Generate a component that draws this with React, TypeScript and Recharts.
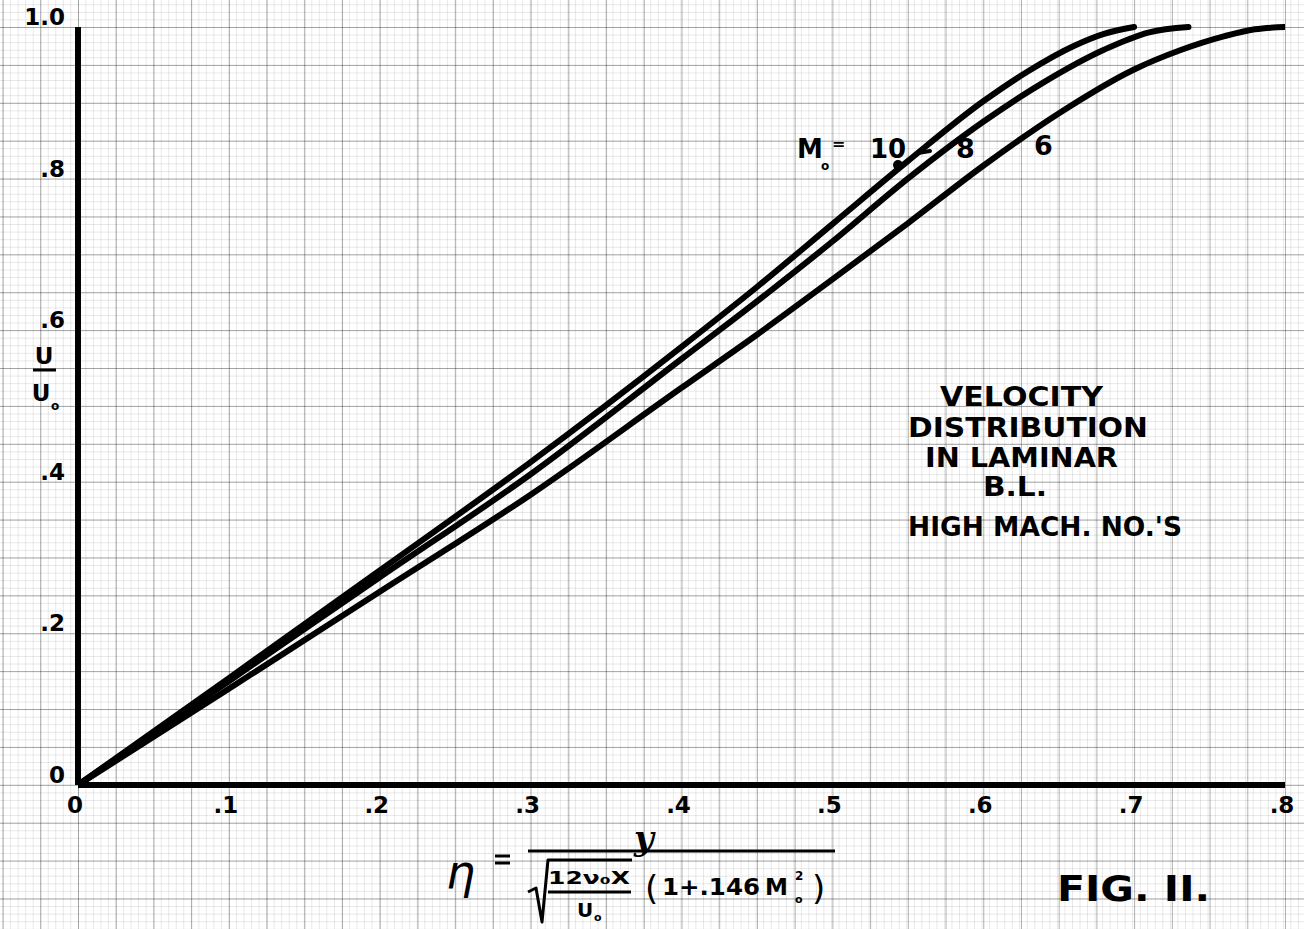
import React from "react";
import { LineChart, Line, XAxis, YAxis } from "recharts";

// velocity profiles u/U0 vs eta
const etaM10 = [0, 0.1, 0.2, 0.3, 0.4, 0.45, 0.5, 0.55, 0.6, 0.63, 0.66, 0.68, 0.7];
const uM10 = [0, 0.141, 0.283, 0.426, 0.578, 0.657, 0.74, 0.823, 0.902, 0.942, 0.975, 0.991, 1.0];

const etaM8 = [0, 0.1, 0.2, 0.3, 0.4, 0.45, 0.5, 0.55, 0.6, 0.64, 0.68, 0.71, 0.736];
const uM8 = [0, 0.137, 0.274, 0.41, 0.562, 0.638, 0.717, 0.8, 0.875, 0.927, 0.97, 0.993, 1.0];

const etaM6 = [0, 0.1, 0.2, 0.3, 0.4, 0.45, 0.5, 0.55, 0.6, 0.65, 0.7, 0.73, 0.76, 0.78, 0.8];
const uM6 = [0, 0.127, 0.255, 0.383, 0.524, 0.594, 0.667, 0.741, 0.817, 0.886, 0.944, 0.969, 0.988, 0.997, 1.0];

const xTicks = [0, 0.1, 0.2, 0.3, 0.4, 0.5, 0.6, 0.7, 0.8];
const xTickLabels = ["0", ".1", ".2", ".3", ".4", ".5", ".6", ".7", ".8"];
const yTicks = [0, 0.2, 0.4, 0.6, 0.8, 1.0];
const yTickLabels = ["0", ".2", ".4", ".6", ".8", "1.0"];

const titleLines = ["VELOCITY", "DISTRIBUTION", "IN LAMINAR", "B.L."];
const subTitle = "HIGH MACH. NO.'S";

const zip = (xs: number[], ys: number[]) => xs.map((eta, i) => ({ eta, u: ys[i] }));
const m10 = zip(etaM10, uM10);
const m8 = zip(etaM8, uM8);
const m6 = zip(etaM6, uM6);

const W = 1304;
const H = 929;
const MX = 1207 / 32; // graph paper square, x
const MY = 758 / 20; // graph paper square, y
const FONT = "'DejaVu Sans', sans-serif";

const XTick = (props: any) => {
  const { x, y, payload } = props;
  const i = xTicks.indexOf(payload.value);
  return (
    <text x={x - 3} y={y + 20} textAnchor="middle" fontFamily={FONT} fontWeight={700} fontSize={23} fill="#000">
      {xTickLabels[i]}
    </text>
  );
};

const YTick = (props: any) => {
  const { y, payload } = props;
  const i = yTicks.indexOf(payload.value);
  return (
    <text x={65} y={y - 2} textAnchor="end" fontFamily={FONT} fontWeight={700} fontSize={23} fill="#000">
      {yTickLabels[i]}
    </text>
  );
};

const paper = {
  backgroundColor: "#fff",
  backgroundImage: [
    "linear-gradient(to right, rgba(0,0,0,0.3) 1px, transparent 1px)",
    "linear-gradient(to bottom, rgba(0,0,0,0.3) 1px, transparent 1px)",
    "linear-gradient(to right, rgba(0,0,0,0.09) 1px, transparent 1px)",
    "linear-gradient(to bottom, rgba(0,0,0,0.09) 1px, transparent 1px)",
  ].join(","),
  backgroundSize: `${MX}px ${MY}px, ${MX}px ${MY}px, ${MX / 5}px ${MY / 5}px, ${MX / 5}px ${MY / 5}px`,
  backgroundPosition: `${78 % MX}px ${27 % MY}px`,
};

function Notes() {
  return (
    <svg width={W} height={H} style={{ position: "absolute", left: 0, top: 0, pointerEvents: "none" }}>
      <g fontFamily={FONT} fontWeight={700} fill="#000">
        {/* y label */}
        <text x={44} y={364} fontSize={23} textAnchor="middle">U</text>
        <line x1={33} x2={56} y1={370} y2={370} stroke="#000" strokeWidth={3} />
        <text x={41} y={401} fontSize={23} textAnchor="middle">U</text>
        <text x={51} y={410} fontSize={12}>o</text>

        {/* Mach labels */}
        <text x={797} y={158} fontSize={26}>M</text>
        <text x={821} y={170} fontSize={12}>o</text>
        <text x={832} y={149} fontSize={16}>=</text>
        <text x={870} y={158} fontSize={26}>10</text>
        <circle cx={898} cy={165} r={5} />
        <line x1={918} x2={930} y1={153} y2={151} stroke="#000" strokeWidth={4} strokeLinecap="round" />
        <text x={956} y={158} fontSize={27}>8</text>
        <text x={1034} y={155} fontSize={27}>6</text>

        {titleLines.map((t, i) => (
          <text
            key={t}
            x={[940, 908, 925, 983][i]}
            y={[406, 437, 467, 496][i]}
            fontSize={26}
            textLength={[163, 240, 193, 64][i]}
            lengthAdjust="spacingAndGlyphs"
          >
            {t}
          </text>
        ))}
        <text x={908} y={536} fontSize={26} textLength={274} lengthAdjust="spacingAndGlyphs">{subTitle}</text>

        {/* eta definition */}
        <text x={446} y={888} fontSize={46} fontWeight={400} fontStyle="italic">η</text>
        <line x1={495} x2={510} y1={856} y2={856} stroke="#000" strokeWidth={3} />
        <line x1={495} x2={510} y1={863} y2={863} stroke="#000" strokeWidth={3} />
        <text x={634} y={850} fontSize={34} fontStyle="italic" fontFamily="'DejaVu Serif', serif">y</text>
        <line x1={528} x2={835} y1={851} y2={851} stroke="#000" strokeWidth={3} />
        <path d="M528 892 L536 888 L542 922 L548 860 L632 860" fill="none" stroke="#000" strokeWidth={3} strokeLinejoin="round" />
        <text x={548} y={884} fontSize={17} textLength={82} lengthAdjust="spacingAndGlyphs">12ν₀X</text>
        <line x1={548} x2={631} y1={892} y2={892} stroke="#000" strokeWidth={3} />
        <text x={577} y={917} fontSize={20}>U</text>
        <text x={594} y={921} fontSize={11}>o</text>
        <text x={645} y={900} fontSize={34} fontWeight={400}>(</text>
        <text x={662} y={895} fontSize={23} textLength={98} lengthAdjust="spacingAndGlyphs">1+.146</text>
        <text x={765} y={895} fontSize={23}>M</text>
        <text x={795} y={880} fontSize={12}>2</text>
        <text x={795} y={903} fontSize={11}>o</text>
        <text x={812} y={900} fontSize={34} fontWeight={400}>)</text>

        <text x={1057} y={901} fontSize={36} textLength={153} lengthAdjust="spacingAndGlyphs">FIG. II.</text>
      </g>
    </svg>
  );
}

export default function App() {
  return (
    <div style={{ position: "fixed", left: 0, top: 0, width: W, height: H, ...paper }}>
      <LineChart width={W} height={H} margin={{ top: 27, right: 19, bottom: 114, left: 18 }}>
        <XAxis
          dataKey="eta"
          type="number"
          domain={[0, 0.8]}
          ticks={xTicks}
          height={30}
          axisLine={{ stroke: "#000", strokeWidth: 6 }}
          tickLine={false}
          tick={<XTick />}
          allowDataOverflow
        />
        <YAxis
          type="number"
          domain={[0, 1]}
          ticks={yTicks}
          width={60}
          axisLine={{ stroke: "#000", strokeWidth: 6 }}
          tickLine={false}
          tick={<YTick />}
        />
        <Line data={m10} dataKey="u" type="monotone" stroke="#000" strokeWidth={6} strokeLinecap="round" dot={false} isAnimationActive={false} />
        <Line data={m8} dataKey="u" type="monotone" stroke="#000" strokeWidth={6} strokeLinecap="round" dot={false} isAnimationActive={false} />
        <Line data={m6} dataKey="u" type="monotone" stroke="#000" strokeWidth={6} strokeLinecap="round" dot={false} isAnimationActive={false} />
      </LineChart>
      <Notes />
    </div>
  );
}
